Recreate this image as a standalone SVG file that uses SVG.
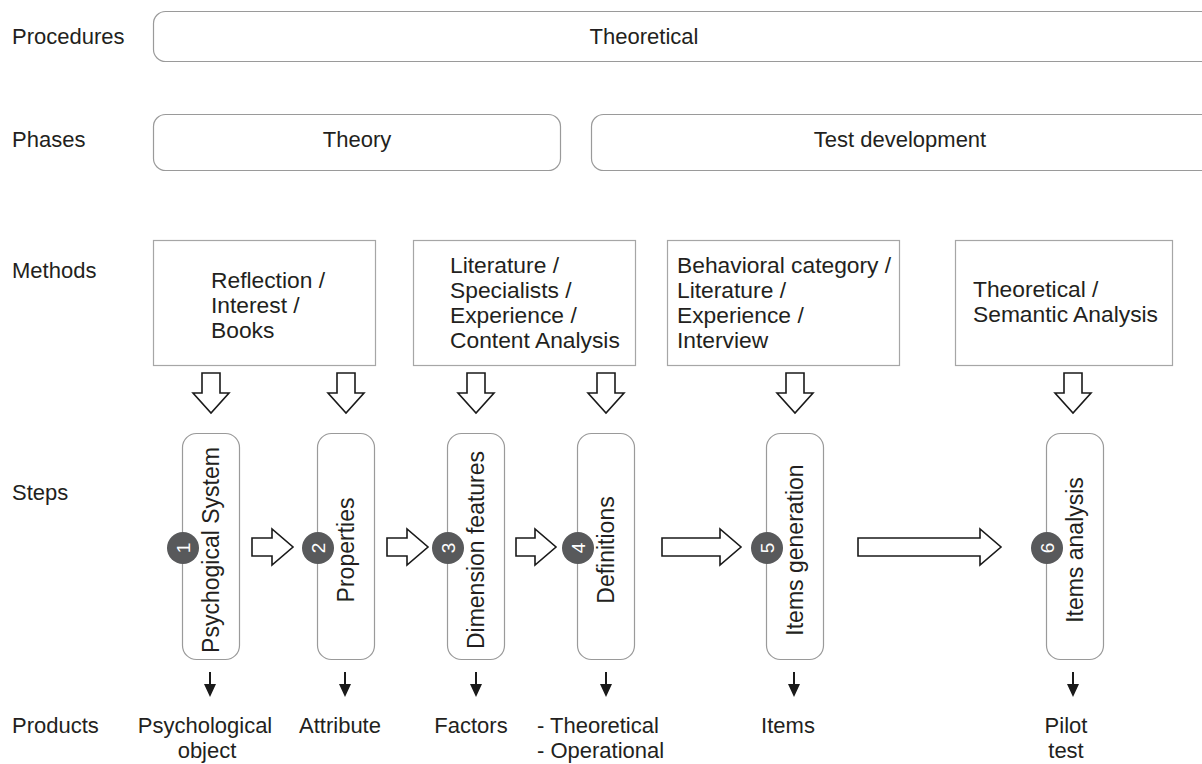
<svg xmlns="http://www.w3.org/2000/svg" width="1202" height="764" viewBox="0 0 1202 764">
<style>
text{font-family:"Liberation Sans",Arial,sans-serif;font-size:22px;fill:#231f20}
.mt{font-size:22.8px}
.rt{font-size:23px}
.rbox{fill:#fff;stroke:#9a9a9a;stroke-width:1.2}
.mbox{fill:#fff;stroke:#a6a6a6;stroke-width:1.2}
.pill{fill:#fff;stroke:#9a9a9a;stroke-width:1.2}
.ha{fill:#fff;stroke:#1a1a1a;stroke-width:1.6;stroke-linejoin:miter}
.num{fill:#58595b}
.numt{fill:#fff;font-size:19px}
.mid{text-anchor:middle}
.sa{fill:#1a1a1a}
</style>
<defs>
<path id="da" class="ha" d="M-9,0 H9 V20 H18 L0,40 L-18,20 H-9 Z"/>
<path id="sa" d="M-1,0 H1 V12 H6 L0,25 L-6,12 H-1 Z"/>
</defs>
<rect width="1202" height="764" fill="#fff"/>

<g id="row-labels">
<text x="12" y="44">Procedures</text>
<text x="12" y="147">Phases</text>
<text x="12" y="278">Methods</text>
<text x="12" y="500">Steps</text>
<text x="12" y="733">Products</text>
</g>

<g id="procedure-theoretical">
<rect class="rbox" x="153.5" y="11.5" width="1060" height="50" rx="12"/>
<text class="mid" x="644" y="44">Theoretical</text>
</g>
<g id="phase-theory">
<rect class="rbox" x="153.5" y="114.5" width="407" height="56" rx="12"/>
<text class="mid" x="357" y="147">Theory</text>
</g>
<g id="phase-test-development">
<rect class="rbox" x="591.5" y="114.5" width="622" height="56" rx="12"/>
<text class="mid" x="900" y="147">Test development</text>
</g>

<g id="method-1" class="mt">
<rect class="mbox" x="153.5" y="240.5" width="222" height="125"/>
<text class="mt" x="211" y="288">Reflection /</text>
<text class="mt" x="211" y="313">Interest /</text>
<text class="mt" x="211" y="338">Books</text>
</g>
<g id="method-2">
<rect class="mbox" x="413.5" y="240.5" width="222" height="125"/>
<text class="mt" x="450" y="273">Literature /</text>
<text class="mt" x="450" y="298">Specialists /</text>
<text class="mt" x="450" y="323">Experience /</text>
<text class="mt" x="450" y="348">Content Analysis</text>
</g>
<g id="method-3">
<rect class="mbox" x="667.5" y="240.5" width="232" height="125"/>
<text class="mt" x="677" y="273">Behavioral category /</text>
<text class="mt" x="677" y="298">Literature /</text>
<text class="mt" x="677" y="323">Experience /</text>
<text class="mt" x="677" y="348">Interview</text>
</g>
<g id="method-4">
<rect class="mbox" x="955.5" y="240.5" width="217" height="125"/>
<text class="mt" x="973" y="297">Theoretical /</text>
<text class="mt" x="973" y="322">Semantic Analysis</text>
</g>

<g id="step-1">
<rect class="pill" x="182.5" y="433.5" width="57" height="226" rx="14"/>
<text class="mid rt" transform="translate(219,550) rotate(-90)">Psychogical System</text>
<circle class="num" cx="183" cy="548" r="16"/>
<text class="numt mid" transform="translate(190,548) rotate(-90)">1</text>
</g>
<g id="step-2">
<rect class="pill" x="317.5" y="433.5" width="57" height="226" rx="14"/>
<text class="mid rt" transform="translate(354,550) rotate(-90)">Properties</text>
<circle class="num" cx="318" cy="548" r="16"/>
<text class="numt mid" transform="translate(325,548) rotate(-90)">2</text>
</g>
<g id="step-3">
<rect class="pill" x="447.5" y="433.5" width="57" height="226" rx="14"/>
<text class="mid rt" transform="translate(484,550) rotate(-90)">Dimension features</text>
<circle class="num" cx="448" cy="548" r="16"/>
<text class="numt mid" transform="translate(455,548) rotate(-90)">3</text>
</g>
<g id="step-4">
<rect class="pill" x="577.5" y="433.5" width="57" height="226" rx="14"/>
<text class="mid rt" transform="translate(614,550) rotate(-90)">Definitions</text>
<circle class="num" cx="578" cy="548" r="16"/>
<text class="numt mid" transform="translate(585,548) rotate(-90)">4</text>
</g>
<g id="step-5">
<rect class="pill" x="766.5" y="433.5" width="57" height="226" rx="14"/>
<text class="mid rt" transform="translate(803,550) rotate(-90)">Items generation</text>
<circle class="num" cx="767" cy="548" r="16"/>
<text class="numt mid" transform="translate(774,548) rotate(-90)">5</text>
</g>
<g id="step-6">
<rect class="pill" x="1046.5" y="433.5" width="57" height="226" rx="14"/>
<text class="mid rt" transform="translate(1083,550) rotate(-90)">Items analysis</text>
<circle class="num" cx="1047" cy="548" r="16"/>
<text class="numt mid" transform="translate(1054,548) rotate(-90)">6</text>
</g>

<g id="products">
<text class="mid" x="205" y="733">Psychological</text>
<text class="mid" x="207" y="758">object</text>
<text class="mid" x="340" y="733">Attribute</text>
<text class="mid" x="471" y="733">Factors</text>
<text x="537" y="733">- Theoretical</text>
<text x="537" y="758">- Operational</text>
<text class="mid" x="788" y="733">Items</text>
<text class="mid" x="1066" y="733">Pilot</text>
<text class="mid" x="1066" y="758">test</text>
</g>

<g id="connectors">
<use href="#da" x="211" y="373"/>
<use href="#da" x="346" y="373"/>
<use href="#da" x="476" y="373"/>
<use href="#da" x="606" y="373"/>
<use href="#da" x="795" y="373"/>
<use href="#da" x="1073" y="373"/>
<path class="ha" d="M252,538 H272 V529 L293,547 L272,565 V556 H252 Z"/>
<path class="ha" d="M387,538 H407 V529 L428,547 L407,565 V556 H387 Z"/>
<path class="ha" d="M516,538 H535 V529 L556,547 L535,565 V556 H516 Z"/>
<path class="ha" d="M662,538 H720 V529 L741,547 L720,565 V556 H662 Z"/>
<path class="ha" d="M858,538 H980 V529 L1001,547 L980,565 V556 H858 Z"/>
<use href="#sa" class="sa" x="210" y="672"/>
<use href="#sa" class="sa" x="345" y="672"/>
<use href="#sa" class="sa" x="476" y="672"/>
<use href="#sa" class="sa" x="606" y="672"/>
<use href="#sa" class="sa" x="794" y="672"/>
<use href="#sa" class="sa" x="1073" y="672"/>
</g>
</svg>
